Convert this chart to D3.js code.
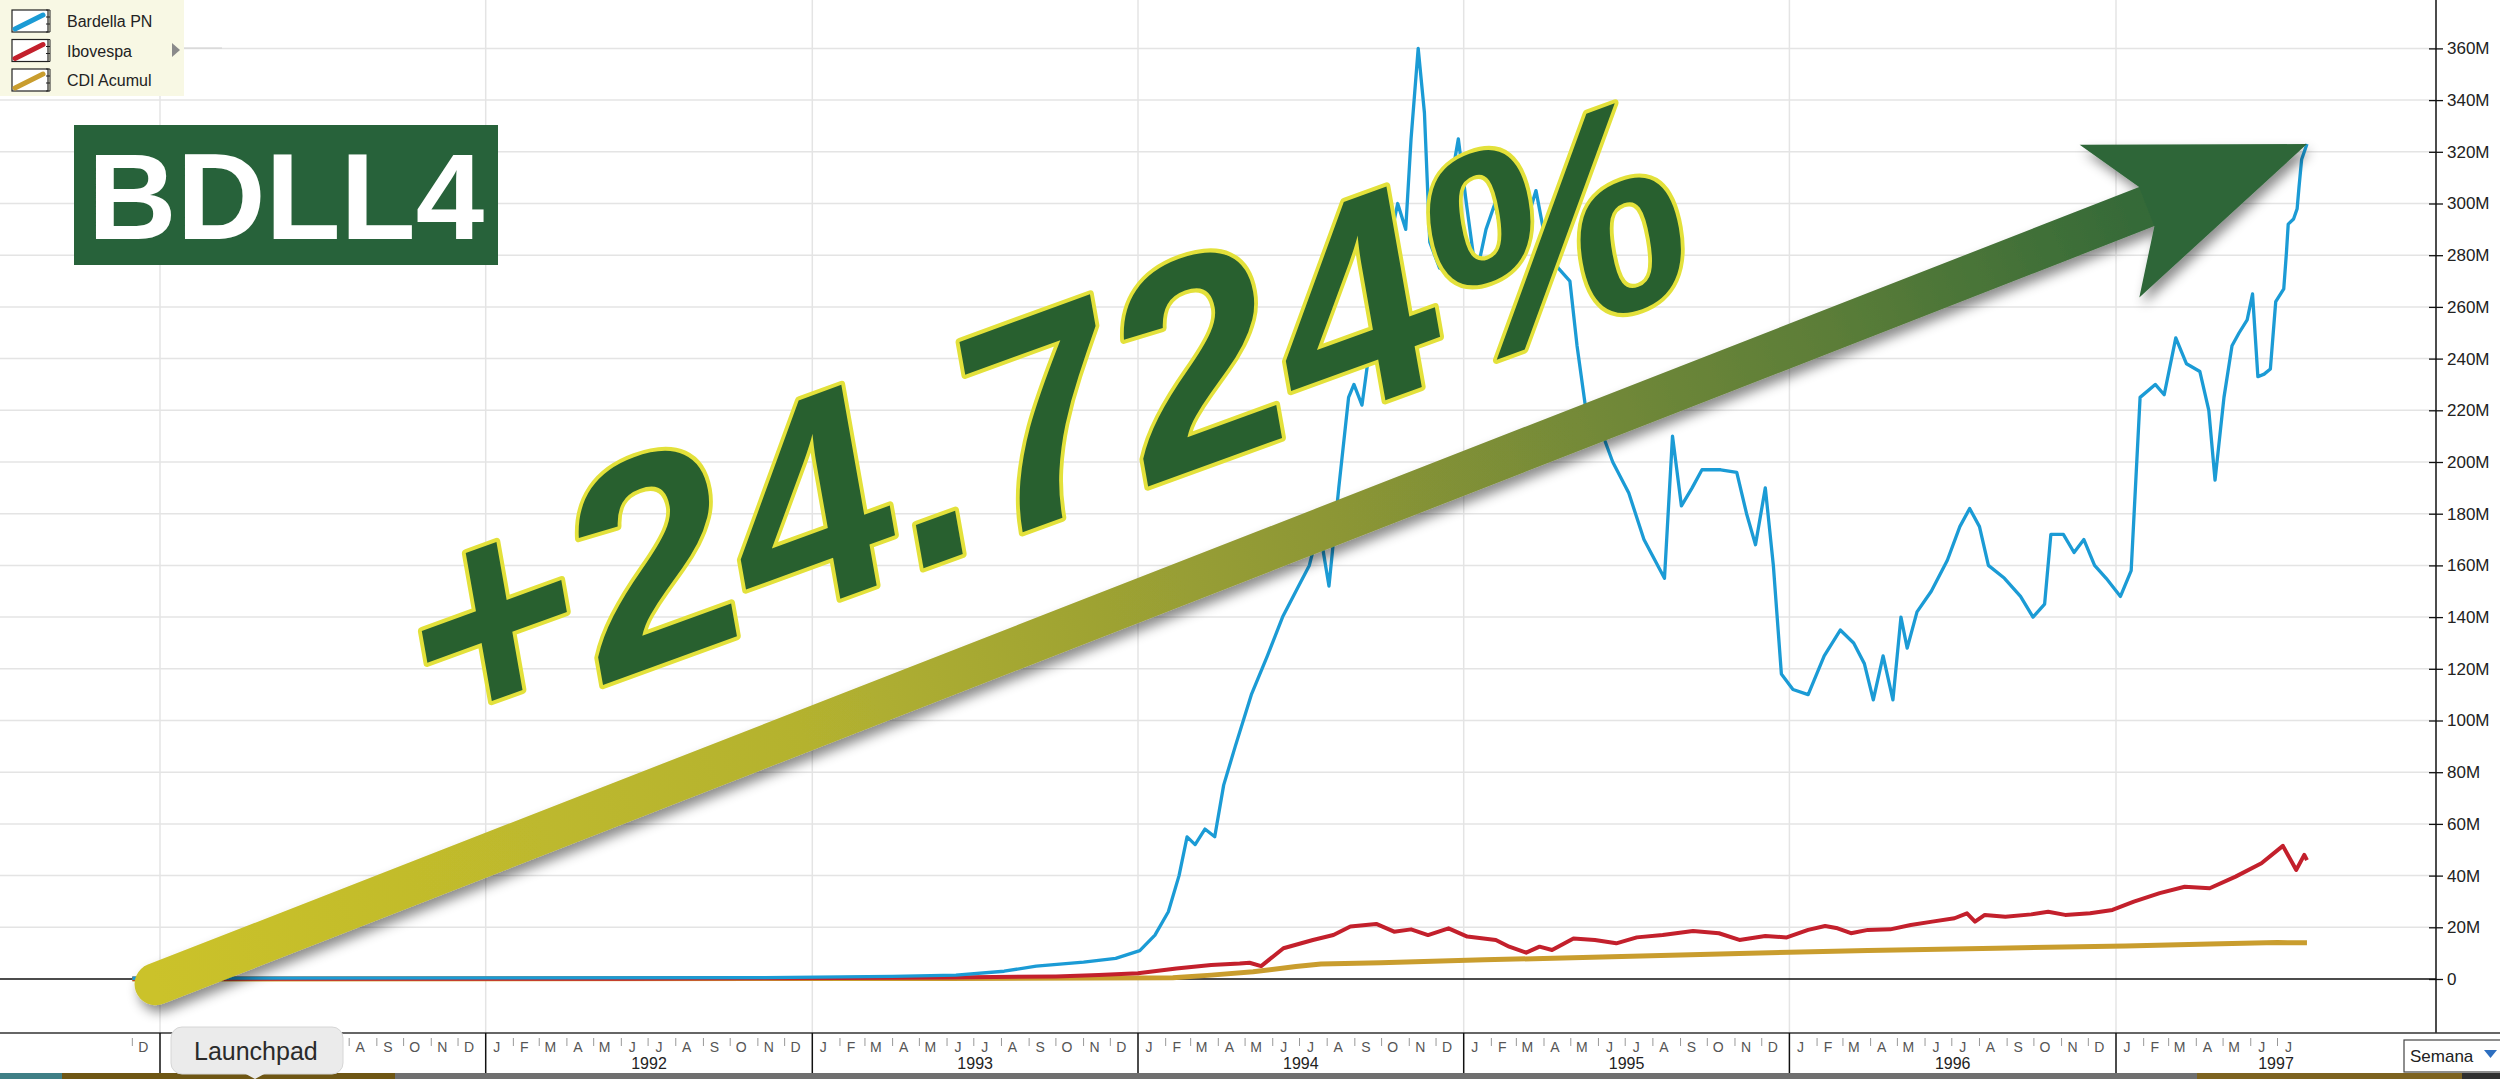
<!DOCTYPE html>
<html>
<head>
<meta charset="utf-8">
<script src="https://cdn.jsdelivr.net/npm/d3@7"></script>
<style>
  html, body { margin: 0; padding: 0; background: #fff; overflow: hidden; }
  svg { display: block; font-family: "Liberation Sans", Arial, sans-serif; }
</style>
</head>
<body>
<div id="root"></div>
<script>
// values in millions, weekly closes
const bardella = [
  ["1990-12-01", 0.3], ["1992-11-09", 0.5], ["1993-04-01", 1.0], ["1993-06-11", 1.5], ["1993-08-04", 3],
  ["1993-09-09", 5], ["1993-11-01", 6.5], ["1993-12-07", 8], ["1994-01-03", 11], ["1994-01-20", 17],
  ["1994-02-04", 26], ["1994-02-16", 40], ["1994-02-25", 55], ["1994-03-06", 52], ["1994-03-17", 58],
  ["1994-03-28", 55], ["1994-04-07", 75], ["1994-04-20", 90], ["1994-05-08", 110], ["1994-05-26", 125],
  ["1994-06-12", 140], ["1994-06-30", 152], ["1994-07-12", 160], ["1994-07-23", 175], ["1994-08-03", 152],
  ["1994-08-14", 190], ["1994-08-25", 225], ["1994-08-31", 230], ["1994-09-09", 222], ["1994-09-18", 245],
  ["1994-09-29", 250], ["1994-10-10", 285], ["1994-10-19", 300], ["1994-10-28", 290], ["1994-11-03", 325],
  ["1994-11-11", 360], ["1994-11-18", 335], ["1994-11-24", 285], ["1994-12-05", 275], ["1994-12-16", 305],
  ["1994-12-26", 325], ["1995-01-04", 300], ["1995-01-15", 272], ["1995-01-26", 290], ["1995-02-05", 300],
  ["1995-02-15", 285], ["1995-02-26", 295], ["1995-03-10", 290], ["1995-03-23", 305], ["1995-04-03", 285],
  ["1995-04-17", 275], ["1995-04-30", 270], ["1995-05-08", 245], ["1995-05-18", 220], ["1995-06-01", 215],
  ["1995-06-17", 200], ["1995-07-05", 188], ["1995-07-22", 170], ["1995-08-14", 155], ["1995-08-23", 210],
  ["1995-09-02", 183], ["1995-09-14", 190], ["1995-09-25", 197], ["1995-10-16", 197], ["1995-11-03", 196],
  ["1995-11-14", 180], ["1995-11-24", 168], ["1995-12-05", 190], ["1995-12-14", 160], ["1995-12-23", 118],
  ["1996-01-05", 112], ["1996-01-22", 110], ["1996-02-09", 125], ["1996-02-27", 135], ["1996-03-13", 130],
  ["1996-03-25", 122], ["1996-04-04", 108], ["1996-04-15", 125], ["1996-04-26", 108], ["1996-05-05", 140],
  ["1996-05-12", 128], ["1996-05-23", 142], ["1996-06-08", 150], ["1996-06-26", 162], ["1996-07-10", 175],
  ["1996-07-21", 182], ["1996-08-01", 175], ["1996-08-11", 160], ["1996-08-29", 155], ["1996-09-16", 148],
  ["1996-09-30", 140], ["1996-10-13", 145], ["1996-10-20", 172], ["1996-11-03", 172], ["1996-11-15", 165],
  ["1996-11-26", 170], ["1996-12-08", 160], ["1996-12-21", 155], ["1997-01-06", 148], ["1997-01-18", 158],
  ["1997-01-28", 225], ["1997-02-14", 230], ["1997-02-24", 226], ["1997-03-09", 248], ["1997-03-21", 238],
  ["1997-04-05", 235], ["1997-04-15", 220], ["1997-04-22", 193], ["1997-05-02", 225], ["1997-05-11", 245],
  ["1997-05-19", 250], ["1997-05-28", 255], ["1997-06-03", 265], ["1997-06-09", 233], ["1997-06-16", 234],
  ["1997-06-23", 236], ["1997-06-29", 262], ["1997-07-08", 267], ["1997-07-11", 281], ["1997-07-13", 292],
  ["1997-07-19", 294], ["1997-07-23", 298], ["1997-07-25", 306], ["1997-07-28", 317], ["1997-08-03", 323]
];

const ibovespa = [
  ["1990-12-01", 0.05], ["1992-06-01", 0.1], ["1992-12-01", 0.3], ["1993-06-01", 0.6], ["1993-10-01", 1.0],
  ["1993-11-18", 1.5], ["1994-01-01", 2.2], ["1994-02-13", 4.1], ["1994-03-24", 5.4], ["1994-04-25", 6.0],
  ["1994-05-06", 6.3], ["1994-05-19", 5.0], ["1994-06-13", 11.9], ["1994-07-16", 15.1], ["1994-08-08", 17],
  ["1994-08-27", 20.3], ["1994-09-25", 21.3], ["1994-10-15", 18.3], ["1994-11-03", 19.2], ["1994-11-22", 17],
  ["1994-12-15", 19.6], ["1995-01-05", 16.4], ["1995-02-06", 15.1], ["1995-02-21", 12.5], ["1995-03-12", 10.2],
  ["1995-03-27", 12.5], ["1995-04-10", 11.2], ["1995-05-04", 15.7], ["1995-05-28", 15.1], ["1995-06-21", 13.8],
  ["1995-07-14", 16.1], ["1995-08-12", 17], ["1995-09-15", 18.6], ["1995-10-14", 17.7], ["1995-11-06", 15.1],
  ["1995-12-05", 16.6], ["1995-12-29", 16.1], ["1996-01-22", 19], ["1996-02-10", 20.5], ["1996-02-24", 19.6],
  ["1996-03-10", 17.7], ["1996-03-29", 19], ["1996-04-23", 19.2], ["1996-05-16", 20.9], ["1996-06-09", 22.2],
  ["1996-07-04", 23.5], ["1996-07-18", 25.4], ["1996-07-27", 22.2], ["1996-08-07", 24.8], ["1996-08-30", 24.1],
  ["1996-09-28", 25], ["1996-10-17", 26], ["1996-11-05", 24.8], ["1996-12-03", 25.4], ["1996-12-28", 26.7],
  ["1997-01-21", 29.9], ["1997-02-19", 33.2], ["1997-03-19", 35.7], ["1997-04-16", 35.1], ["1997-05-15", 39.6],
  ["1997-06-13", 44.8], ["1997-07-07", 51.5], ["1997-07-22", 42.2], ["1997-07-31", 48], ["1997-08-03", 46]
];

const cdi = [
  ["1990-12-01", 0.0], ["1993-06-01", 0.2], ["1994-02-09", 0.5], ["1994-03-24", 1.5], ["1994-05-10", 2.8],
  ["1994-06-27", 4.8], ["1994-07-25", 5.8], ["1994-09-30", 6.3], ["1995-01-24", 7.4], ["1995-06-16", 8.6],
  ["1995-11-06", 9.9], ["1996-03-29", 11], ["1996-08-20", 11.9], ["1997-01-12", 12.8], ["1997-04-16", 13.5],
  ["1997-07-01", 14.1], ["1997-08-03", 14.0]
];

const seriesNames = ["Bardella PN", "Ibovespa", "CDI Acumul"];
const seriesColors = ["#1b9bd5", "#c3202c", "#c99d2e"];
const yTickValues = [0, 20, 40, 60, 80, 100, 120, 140, 160, 180, 200, 220, 240, 260, 280, 300, 320, 340, 360];
const years = [1991, 1992, 1993, 1994, 1995, 1996, 1997];
const monthLetters = ["J", "F", "M", "A", "M", "J", "J", "A", "S", "O", "N", "D"];
const ticker = "BDLL4";
const gainLabel = "+24.724%";
const arrowStart = ["1990-12-27", -2];

// Set up the chart dimensions
const W = 2500, H = 1079;
const axisX = 2436, plotBottom = 1033;
const tipBox = { x: 171, y: 1027, w: 172, h: 47 };

const parse = d3.timeParse("%Y-%m-%d");

const x = d3.scaleTime()
  .domain([new Date(1991, 0, 1), new Date(1997, 0, 1)])
  .range([160, 2116]);

const y = d3.scaleLinear()
  .domain([0, 360])
  .range([979, 48.4]);

const svg = d3.select("#root")
  .append("svg")
  .attr("width", W)
  .attr("height", H);

const defs = svg.append("defs");

defs.append("clipPath").attr("id", "plotclip")
  .append("rect").attr("x", 0).attr("y", 0).attr("width", axisX).attr("height", plotBottom);

const shadow = defs.append("filter").attr("id", "shadow")
  .attr("x", "-20%").attr("y", "-20%").attr("width", "140%").attr("height", "160%");
shadow.append("feDropShadow")
  .attr("dx", 4).attr("dy", 7).attr("stdDeviation", 6)
  .attr("flood-color", "#000").attr("flood-opacity", 0.45);

svg.append("rect").attr("width", W).attr("height", H).attr("fill", "#fff");

// grid
const grid = svg.append("g");
grid.selectAll(".hgrid")
  .data(yTickValues.filter(d => d !== 0))
  .enter().append("line")
  .attr("x1", 0).attr("x2", axisX)
  .attr("y1", d => y(d)).attr("y2", d => y(d))
  .attr("stroke", "#e4e4e4").attr("stroke-width", 1.5);

grid.selectAll(".vgrid")
  .data(years)
  .enter().append("line")
  .attr("x1", d => x(new Date(d, 0, 1))).attr("x2", d => x(new Date(d, 0, 1)))
  .attr("y1", 0).attr("y2", plotBottom)
  .attr("stroke", "#e4e4e4").attr("stroke-width", 1.5);

// zero line
svg.append("line")
  .attr("x1", 0).attr("x2", axisX)
  .attr("y1", y(0)).attr("y2", y(0))
  .attr("stroke", "#111").attr("stroke-width", 1.5);

// series lines
const line = d3.line()
  .x(d => x(parse(d[0])))
  .y(d => y(d[1]));

const lines = svg.append("g").attr("clip-path", "url(#plotclip)");
[[cdi, 2, 5], [ibovespa, 1, 4], [bardella, 0, 3.3]].forEach(([data, i, w]) => {
  lines.append("path")
    .datum(data)
    .attr("fill", "none")
    .attr("stroke", seriesColors[i])
    .attr("stroke-width", w)
    .attr("stroke-linejoin", "round")
    .attr("d", line);
});

// y axis on the right
const yAxis = svg.append("g")
  .attr("transform", `translate(${axisX},0)`)
  .call(d3.axisRight(y)
    .tickValues(yTickValues)
    .tickSizeOuter(0)
    .tickSize(7)
    .tickPadding(4)
    .tickFormat(d => d === 0 ? "0" : d + "M"));
yAxis.select(".domain").remove();
yAxis.selectAll(".tick line").attr("x1", -7).attr("stroke", "#111").attr("stroke-width", 1.3);
yAxis.selectAll(".tick text")
  .attr("font-size", 17).attr("fill", "#222")
  .attr("font-family", "'Liberation Sans', Arial, sans-serif");
svg.append("line")
  .attr("x1", axisX).attr("x2", axisX).attr("y1", 0).attr("y2", plotBottom)
  .attr("stroke", "#111").attr("stroke-width", 1.5);

// x axis band
svg.append("line")
  .attr("x1", 0).attr("x2", W).attr("y1", plotBottom).attr("y2", plotBottom)
  .attr("stroke", "#333").attr("stroke-width", 1.5);

const xAxis = svg.append("g");
const firstData = parse(bardella[0][0]);
const lastData = parse(bardella[bardella.length - 1][0]);
const months = d3.timeMonth.range(d3.timeMonth.floor(firstData), d3.timeMonth.floor(lastData));
const underTip = px => px > tipBox.x - 6 && px < tipBox.x + tipBox.w + 6;

xAxis.selectAll(".mtick")
  .data(months.filter(m => m.getMonth() !== 0 && !underTip(x(m))))
  .enter().append("line")
  .attr("x1", d => x(d)).attr("x2", d => x(d))
  .attr("y1", 1038).attr("y2", 1046)
  .attr("stroke", "#999").attr("stroke-width", 1);

xAxis.selectAll(".mlabel")
  .data(months.filter(m => !underTip(x(m) + 11)))
  .enter().append("text")
  .attr("x", d => x(d) + 11)
  .attr("y", 1052)
  .attr("text-anchor", "middle")
  .attr("font-size", 14)
  .attr("fill", "#555")
  .text(d => monthLetters[d.getMonth()]);

xAxis.selectAll(".ysep")
  .data(years)
  .enter().append("line")
  .attr("x1", d => x(new Date(d, 0, 1))).attr("x2", d => x(new Date(d, 0, 1)))
  .attr("y1", plotBottom).attr("y2", 1073)
  .attr("stroke", "#111").attr("stroke-width", 1.5);

const yearMid = d => (x(new Date(d, 0, 1)) + Math.min(x(new Date(d + 1, 0, 1)), axisX)) / 2;
xAxis.selectAll(".ylabel")
  .data(years.filter(d => !underTip(yearMid(d))))
  .enter().append("text")
  .attr("x", yearMid)
  .attr("y", 1069)
  .attr("text-anchor", "middle")
  .attr("font-size", 16)
  .attr("fill", "#222")
  .text(d => d);

// legend
const legend = svg.append("g");
legend.append("rect").attr("x", 0).attr("y", 0).attr("width", 184).attr("height", 96).attr("fill", "#f8f8e4");
seriesNames.forEach((name, i) => {
  const cy = 21 + i * 29.5;
  const g = legend.append("g").attr("transform", `translate(0,${cy})`);
  g.append("rect").attr("x", 12).attr("y", -11).attr("width", 36).attr("height", 22)
    .attr("fill", "#fff").attr("stroke", "#222").attr("stroke-width", 1.2);
  g.append("line").attr("x1", 15).attr("y1", 8).attr("x2", 43).attr("y2", -6)
    .attr("stroke", seriesColors[i]).attr("stroke-width", 5).attr("stroke-linecap", "round");
  g.append("line").attr("x1", 50).attr("x2", 50).attr("y1", -11).attr("y2", 11).attr("stroke", "#222");
  [-11, -4, 3, 11].forEach(t => g.append("line").attr("x1", 46).attr("x2", 50).attr("y1", t).attr("y2", t).attr("stroke", "#222"));
  g.append("text").attr("x", 67).attr("y", 6).attr("font-size", 16).attr("fill", "#222").text(name);
});
legend.append("path").attr("d", "M172,43 L180,50 L172,57 Z").attr("fill", "#8a8a8a");
legend.append("line").attr("x1", 184).attr("x2", 222).attr("y1", 48).attr("y2", 48).attr("stroke", "#d0d0d0");

// ticker box
svg.append("rect").attr("x", 74).attr("y", 125).attr("width", 424).attr("height", 140).attr("fill", "#27623a");
svg.append("text")
  .attr("x", 286).attr("y", 239)
  .attr("text-anchor", "middle")
  .attr("font-size", 123).attr("font-weight", "bold")
  .attr("fill", "#fff")
  .text(ticker);

// arrow from the first point to the last close
const p0 = [x(parse(arrowStart[0])), y(arrowStart[1])];
const last = bardella[bardella.length - 1];
const p1 = [x(parse(last[0])), y(last[1])];
const len = Math.hypot(p1[0] - p0[0], p1[1] - p0[1]);
const u = [(p1[0] - p0[0]) / len, (p1[1] - p0[1]) / len];
const n = [-u[1], u[0]];
const at = (along, off) => [p1[0] - u[0] * along + n[0] * off, p1[1] - u[1] * along + n[1] * off];

const grad = defs.append("linearGradient").attr("id", "arrowgrad")
  .attr("gradientUnits", "userSpaceOnUse")
  .attr("x1", p0[0]).attr("y1", p0[1]).attr("x2", p1[0]).attr("y2", p1[1]);
[[0, "#cbc22a"], [0.3, "#b4b22f"], [0.55, "#8c9636"], [0.78, "#5b7d38"], [0.92, "#356a38"], [1, "#2e6638"]]
  .forEach(([o, c]) => grad.append("stop").attr("offset", o).attr("stop-color", c));

const arrow = svg.append("g").attr("filter", "url(#shadow)");
const shaftEnd = at(165, 0);
arrow.append("line")
  .attr("x1", p0[0]).attr("y1", p0[1]).attr("x2", shaftEnd[0]).attr("y2", shaftEnd[1])
  .attr("stroke", "url(#arrowgrad)").attr("stroke-width", 42).attr("stroke-linecap", "round");
arrow.append("polygon")
  .attr("points", [at(0, 0), at(212, -82), at(172, -21), at(172, 21), at(212, 82)].map(p => p.join(",")).join(" "))
  .attr("fill", "#2e6638");

// big gain label, slanted
const ang = 20 * Math.PI / 180, lean = 10 * Math.PI / 180;
svg.append("text")
  .attr("transform", `matrix(${Math.cos(ang)},${-Math.sin(ang)},${Math.sin(lean)},${Math.cos(lean)},430,748)`)
  .attr("font-size", 296).attr("font-weight", "bold")
  .attr("letter-spacing", 1)
  .attr("fill", "#28602f")
  .attr("stroke", "#e3e13b").attr("stroke-width", 8)
  .attr("stroke-linejoin", "round")
  .attr("paint-order", "stroke")
  .text(gainLabel);

// window chrome at the bottom
const strip = [[0, 62, "#3f7f86"], [62, 395, "#6e5614"], [395, 2197, "#6f6f6f"], [2197, 2462, "#7d6320"], [2462, 2500, "#2f2f2f"]];
svg.selectAll(".strip").data(strip).enter().append("rect")
  .attr("x", d => d[0]).attr("width", d => d[1] - d[0])
  .attr("y", 1073).attr("height", 6).attr("fill", d => d[2]);

const tip = svg.append("g");
tip.append("rect").attr("x", tipBox.x).attr("y", tipBox.y).attr("width", tipBox.w).attr("height", tipBox.h).attr("rx", 11)
  .attr("fill", "#ebebeb").attr("stroke", "#d6d6d6");
tip.append("path").attr("d", "M244,1073 L255,1079 L266,1073 Z").attr("fill", "#ebebeb");
tip.append("text").attr("x", 194).attr("y", 1060).attr("font-size", 25).attr("fill", "#2a2a2a").text("Launchpad");

const sel = svg.append("g");
sel.append("rect").attr("x", 2404).attr("y", 1040).attr("width", 100).attr("height", 32)
  .attr("fill", "#fff").attr("stroke", "#444").attr("stroke-width", 1.2);
sel.append("text").attr("x", 2410).attr("y", 1062).attr("font-size", 17).attr("fill", "#222").text("Semana");
sel.append("path").attr("d", "M2484,1050 L2497,1050 L2490.5,1058 Z").attr("fill", "#2d6fc0");
</script>
</body>
</html>
